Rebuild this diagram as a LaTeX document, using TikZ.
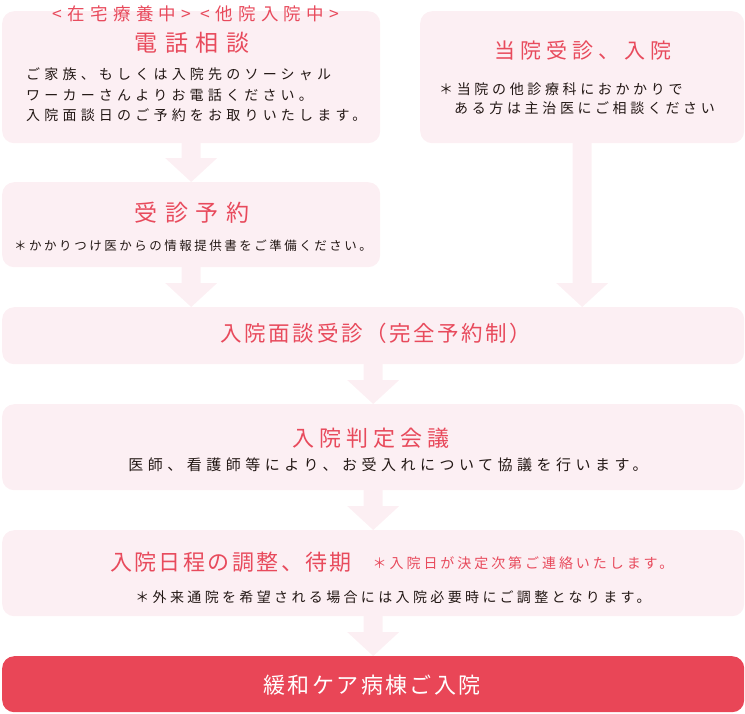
\documentclass[tikz,border=0pt]{standalone}
\usepackage{fontspec}
\setmainfont{Noto Sans CJK JP}
\usetikzlibrary{calc}
\definecolor{boxpink}{HTML}{FCEFF3}
\definecolor{titlered}{HTML}{E84A5C}
\definecolor{admred}{HTML}{E94657}
\definecolor{inkgray}{HTML}{231815}
\newcommand{\ls}[1]{\addfontfeature{LetterSpace=#1}}
\newcommand{\fs}[2]{\fontsize{#1}{#2}\selectfont}
\newcommand{\flowarrow}[2]{%
  \fill[boxpink] let \p1=(#1), \p2=(#2) in
    (\x1-9.5pt,\y1+2pt) -- (\x1-9.5pt,\y2+24pt) -- (\x1-26pt,\y2+24pt) -- (\x1,\y2)
    -- (\x1+26pt,\y2+24pt) -- (\x1+9.5pt,\y2+24pt) -- (\x1+9.5pt,\y1+2pt) -- cycle;}
\begin{document}
\begin{tikzpicture}[x=1pt, y=-1pt,
  box/.style={fill=boxpink, rounded corners=12pt, anchor=north west, inner sep=0pt},
  title/.style={text=titlered, inner sep=0pt},
  note/.style={text=inkgray, inner sep=0pt}]
  \useasboundingbox (0,0) rectangle (745,713);
  \node[box, minimum width=378pt, minimum height=132pt] (tel) at (2,11) {};
  \node[box, minimum width=324pt, minimum height=132pt] (own) at (420,11) {};
  \node[box, minimum width=378pt, minimum height=85pt] (resv) at (2,182) {};
  \node[box, minimum width=742pt, minimum height=57pt] (intv) at (2,307) {};
  \node[box, minimum width=742pt, minimum height=86pt] (conf) at (2,404) {};
  \node[box, minimum width=742pt, minimum height=86pt] (sched) at (2,530) {};
  \node[box, fill=admred, minimum width=742pt, minimum height=56pt] (adm) at (2,656) {};
  \flowarrow{tel.south}{resv.north}
  \flowarrow{resv.south}{intv.north}
  \flowarrow{own.south}{intv.north}
  \flowarrow{intv.south}{conf.north}
  \flowarrow{conf.south}{sched.north}
  \flowarrow{sched.south}{adm.north}
  \node[title, font=\fs{17.5}{20}\ls{30}] (telTag) at (196,14) {<在宅療養中> <他院入院中>};
  \node[title, font=\fs{23}{26}\ls{34}] (telTitle) at (192,43) {電話相談};
  \node[note, align=left, anchor=west, font=\fs{14}{20.5}\ls{30}] (telBody) at (26,95)
    {ご家族、もしくは入院先のソーシャル\\ワーカーさんよりお電話ください。\\入院面談日のご予約をお取りいたします。};
  \node[title, font=\fs{21}{24}\ls{24}] (ownTitle) at (583,50) {当院受診、入院};
  \node[note, align=left, anchor=west, font=\fs{14}{19}\ls{26}] (ownNote) at (439,98.5)
    {＊当院の他診療科におかかりで\\\hspace*{15pt}ある方は主治医にご相談ください};
  \node[title, font=\fs{23}{26}\ls{34}] (resvTitle) at (192,213) {受診予約};
  \node[note, font=\fs{12.5}{15}\ls{20}] (resvNote) at (193,246) {＊かかりつけ医からの情報提供書をご準備ください。};
  \node[title, font=\fs{21.5}{24}\ls{12}] (intvTitle) at (376,333) {入院面談受診（完全予約制）};
  \node[title, font=\fs{22}{26}\ls{23}] (confTitle) at (371,438) {入院判定会議};
  \node[note, font=\fs{15}{18}\ls{30}] (confNote) at (388,465) {医師、看護師等により、お受入れについて協議を行います。};
  \node[title, font=\fs{22}{26}\ls{11}] (schedTitle) at (231,562) {入院日程の調整、待期};
  \node[title, font=\fs{14}{17}\ls{21}] (schedMemo) at (523,563) {＊入院日が決定次第ご連絡いたします。};
  \node[note, font=\fs{14}{17}\ls{24}] (schedNote) at (393,597) {＊外来通院を希望される場合には入院必要時にご調整となります。};
  \node[title, text=white, font=\fs{22}{26}\ls{11}] (admTitle) at (372,685) {緩和ケア病棟ご入院};
\end{tikzpicture}
\end{document}
